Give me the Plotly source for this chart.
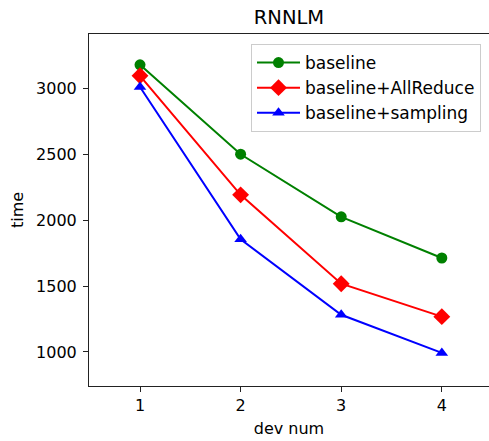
import plotly.graph_objects as go

dev_num = [1, 2, 3, 4]
baseline = [3178, 2500, 2025, 1713]
baseline_allreduce = [3095, 2192, 1518, 1268]
baseline_sampling = [3010, 1855, 1282, 993]
series_names = ["baseline", "baseline+AllReduce", "baseline+sampling"]

FONT = "DejaVu Sans"

fig = go.Figure()
specs = [
    (baseline, "green", "circle", 11),
    (baseline_allreduce, "red", "diamond", 13),
    (baseline_sampling, "blue", "triangle-up", 11),
]
for name, (vals, color, sym, sz) in zip(series_names, specs):
    fig.add_trace(go.Scatter(
        x=dev_num, y=vals, name=name, mode="lines+markers",
        line=dict(color=color, width=2),
        marker=dict(color=color, symbol=sym, size=sz),
    ))

fig.update_layout(
    width=489, height=441,
    margin=dict(l=89, r=0, t=34, b=55, autoexpand=False),
    plot_bgcolor="white", paper_bgcolor="white",
    font=dict(family=FONT, size=16, color="black"),
    title=dict(text="RNNLM", x=0.5, xref="paper", xanchor="center",
               y=1 - 17 / 441, yref="container", yanchor="middle",
               font=dict(family=FONT, size=19.5, color="black")),
    xaxis=dict(range=[0.493, 4.469], tickvals=dev_num, ticktext=[str(v) for v in dev_num],
               showgrid=False, zeroline=False, showline=True, mirror=True,
               linecolor="#222", linewidth=1, ticks="outside", ticklen=5,
               tickcolor="#222", automargin=False,
               title=dict(text="dev num", standoff=8, font=dict(size=16))),
    yaxis=dict(range=[742, 3412], tickvals=[1000, 1500, 2000, 2500, 3000],
               showgrid=False, zeroline=False, showline=True, mirror=False,
               linecolor="#222", linewidth=1, ticks="outside", ticklen=5,
               tickcolor="#222", automargin=False, ticklabelstandoff=3,
               title=dict(text="time", standoff=8, font=dict(size=16))),
    legend=dict(x=0.405, y=0.9716, xanchor="left", yanchor="top",
                bgcolor="rgba(255,255,255,0.8)", bordercolor="#cccccc", borderwidth=1,
                font=dict(family=FONT, size=17, color="black"), itemwidth=43),
    showlegend=True,
)

fig.write_html("out.html", config={"displayModeBar": False},
               post_script="document.body.style.margin='0';document.body.style.overflow='hidden';")
